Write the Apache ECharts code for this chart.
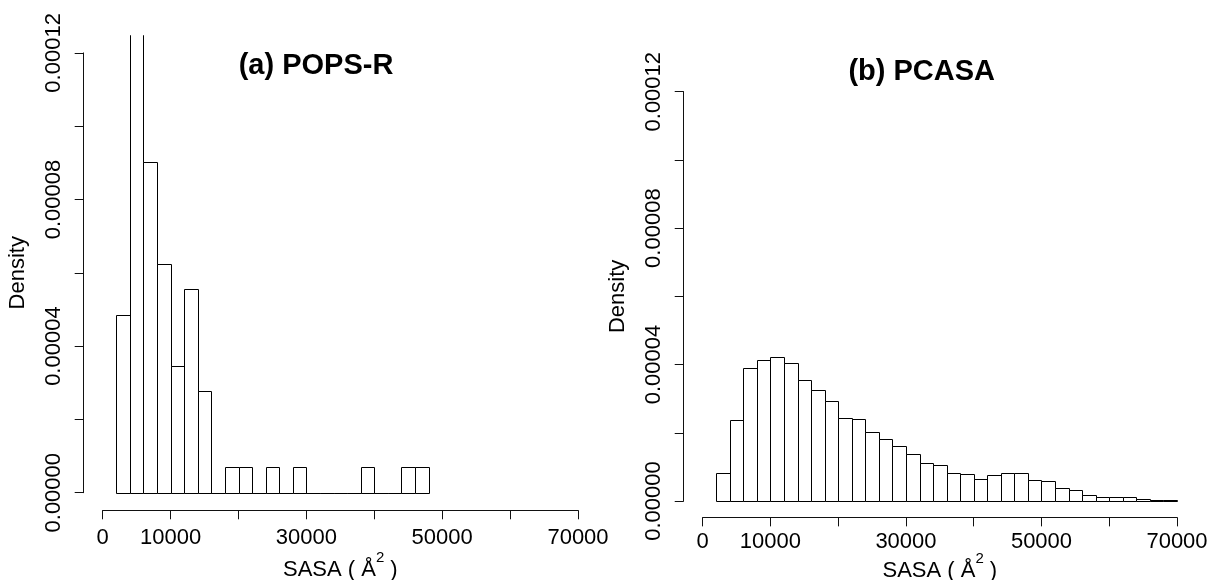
<!DOCTYPE html>
<html>
<head>
<meta charset="utf-8">
<script src="https://cdn.jsdelivr.net/npm/echarts@6/dist/echarts.min.js"></script>
<style>
html,body{margin:0;padding:0;background:#fff;}
#c{width:1211px;height:580px;}
</style>
</head>
<body>
<div id="c"></div>
<script>
// ---------------- data ----------------
const leftBreaks = [2000, 4000, 6000, 8000, 10000, 12000, 14000, 16000, 18000, 20000, 22000, 24000,
  26000, 28000, 30000, 32000, 34000, 36000, 38000, 40000, 42000, 44000, 46000, 48000];
const leftDensity = [0.0000486, 0.000132, 0.0000903, 0.0000625, 0.0000347, 0.0000556, 0.0000278, 0,
  0.0000069, 0.0000069, 0, 0.0000069, 0, 0.0000069, 0, 0, 0, 0, 0.0000069, 0, 0, 0.0000069, 0.0000069];

const rightBreaks = [2000, 4000, 6000, 8000, 10000, 12000, 14000, 16000, 18000, 20000, 22000, 24000,
  26000, 28000, 30000, 32000, 34000, 36000, 38000, 40000, 42000, 44000, 46000, 48000, 50000, 52000,
  54000, 56000, 58000, 60000, 62000, 64000, 66000, 68000, 70000];
const rightDensity = [0.0000083, 0.0000238, 0.0000389, 0.0000414, 0.0000422, 0.0000405, 0.0000356,
  0.0000326, 0.0000292, 0.0000242, 0.0000241, 0.0000201, 0.0000181, 0.0000161, 0.0000137, 0.0000111,
  0.0000106, 0.0000082, 0.0000078, 0.0000065, 0.0000076, 0.0000081, 0.0000082, 0.0000063, 0.0000058,
  0.0000039, 0.0000033, 0.0000017, 0.0000011, 0.0000012, 0.0000011, 0.0000005, 0.0000003, 0.0000003];

const xTickLabels = ['0', '10000', '', '30000', '', '50000', '', '70000'];
const yTickLabels = ['0.00000', '', '0.00004', '', '0.00008', '', '0.00012'];
const panelTitles = ['(a) POPS-R', '(b) PCASA'];
const xTitle = 'SASA ( Å{sup|2} )';
const yTitle = 'Density';

// ---------------- layout ----------------
const X_MAX = 70000, X_STEP = 10000, Y_MAX = 0.00012, Y_STEP = 0.00002;
const PAD = 0.04; // R's default 4% axis extension
const FONT = '"Liberation Sans", Arial, Helvetica, sans-serif';
const panels = [
  { box: { left: 102.7, top: 52.9, width: 475.3, height: 439.8 }, xMargin: 17, xNameGap: 40,
    title: { x: 316, y: 66 } },
  { box: { left: 702.7, top: 91.7, width: 474.3, height: 409.3 }, xMargin: 14, xNameGap: 34,
    title: { x: 921.7, y: 72 } }
];
const hists = [
  { breaks: leftBreaks, density: leftDensity },
  { breaks: rightBreaks, density: rightDensity }
];

function renderHist(params, api) {
  const x0 = api.value(0), x1 = api.value(1), d = api.value(2);
  const a = api.coord([x0, 0]);
  const b = api.coord([x1, d]);
  const L = Math.round(a[0]) + 0.5, R = Math.round(b[0]) + 0.5;
  const B = Math.round(a[1]) + 0.5, T = Math.round(b[1]) + 0.5;
  return {
    type: 'rect',
    shape: { x: L, y: T, width: R - L, height: B - T },
    style: { fill: '#fff', stroke: '#000', lineWidth: 1 }
  };
}

const grid = [], xAxis = [], yAxis = [], series = [], graphic = [];
const axisColor = '#111';

panels.forEach((p, i) => {
  const b = p.box;
  const dx = b.width * PAD, dy = b.height * PAD;
  // plotting region (R's usr region), hidden axes
  grid.push({ left: b.left - dx, top: b.top - dy, width: b.width + 2 * dx, height: b.height + 2 * dy,
    containLabel: false, outerBoundsMode: 'none' });
  xAxis.push({ type: 'value', gridIndex: 2 * i, show: false,
    min: -X_MAX * PAD, max: X_MAX * (1 + PAD) });
  yAxis.push({ type: 'value', gridIndex: 2 * i, show: false,
    min: -Y_MAX * PAD, max: Y_MAX * (1 + PAD) });
  // visible axes grid
  grid.push({ left: b.left, top: b.top, width: b.width, height: b.height,
    containLabel: false, outerBoundsMode: 'none' });
  xAxis.push({
    type: 'value', gridIndex: 2 * i + 1, min: 0, max: X_MAX, interval: X_STEP,
    offset: dy,
    axisLine: { show: true, onZero: false, lineStyle: { color: axisColor, width: 1 } },
    axisTick: { show: true, length: 9, lineStyle: { color: axisColor, width: 1 } },
    splitLine: { show: false },
    axisLabel: {
      color: '#000', fontSize: 22, fontFamily: FONT, margin: p.xMargin,
      formatter: v => xTickLabels[Math.round(v / X_STEP)] || ''
    },
    name: xTitle, nameLocation: 'middle', nameGap: p.xNameGap, nameMoveOverlap: false,
    nameTextStyle: {
      color: '#000', fontSize: 22, fontFamily: FONT, lineHeight: 40,
      rich: { sup: { fontSize: 15, fontFamily: FONT, color: '#000', verticalAlign: 'top', lineHeight: 3 } }
    }
  });
  yAxis.push({
    type: 'value', gridIndex: 2 * i + 1, min: 0, max: Y_MAX, interval: Y_STEP,
    offset: dx,
    axisLine: { show: true, onZero: false, lineStyle: { color: axisColor, width: 1 } },
    axisTick: { show: true, length: 9, lineStyle: { color: axisColor, width: 1 } },
    splitLine: { show: false },
    axisLabel: {
      color: '#000', fontSize: 22, fontFamily: FONT, margin: 19, rotate: 90,
      formatter: v => yTickLabels[Math.round(v / Y_STEP)] || ''
    },
    name: yTitle, nameLocation: 'middle', nameGap: 55, nameRotate: 90, nameMoveOverlap: false,
    nameTextStyle: { color: '#000', fontSize: 22, fontFamily: FONT }
  });
  const h = hists[i];
  series.push({
    type: 'custom', xAxisIndex: 2 * i, yAxisIndex: 2 * i, clip: true,
    renderItem: renderHist,
    data: h.density.map((d, k) => [h.breaks[k], h.breaks[k + 1], d]),
    silent: true, animation: false
  });
  graphic.push({
    type: 'text', x: p.title.x, y: p.title.y, silent: true,
    style: { text: panelTitles[i], fill: '#000', font: 'bold 29px ' + FONT,
      textAlign: 'center', textVerticalAlign: 'middle', align: 'center', verticalAlign: 'middle' }
  });
});

const chart = echarts.init(document.getElementById('c'), null, { renderer: 'canvas' });
chart.setOption({
  backgroundColor: '#fff',
  animation: false,
  grid, xAxis, yAxis, series, graphic
});
</script>
</body>
</html>
